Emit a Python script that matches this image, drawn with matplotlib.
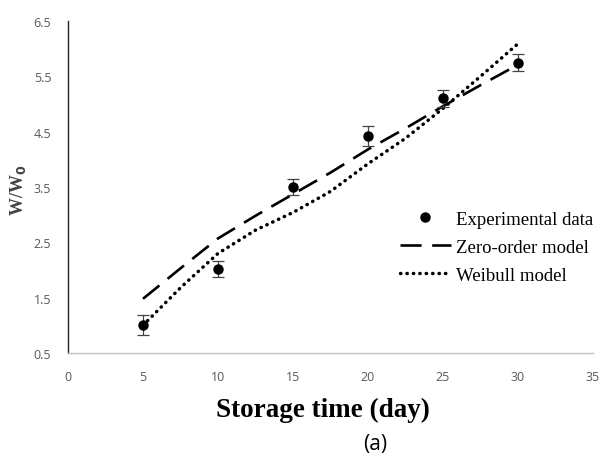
import matplotlib
matplotlib.use("Agg")
import matplotlib.pyplot as plt
from matplotlib.lines import Line2D

# Experimental data
days = [5, 10, 15, 20, 25, 30]
ratio = [1.00, 2.02, 3.50, 4.42, 5.10, 5.75]
ratio_err = [0.18, 0.15, 0.15, 0.18, 0.15, 0.15]

# Model curves
model_days = [5, 7.5, 10, 12.5, 15, 17.5, 20, 22.5, 25, 27.5, 30]
zero_order = [1.48, 2.03, 2.57, 2.98, 3.37, 3.76, 4.18, 4.56, 4.96, 5.34, 5.71]
weibull = [1.00, 1.68, 2.30, 2.72, 3.04, 3.42, 3.92, 4.38, 4.92, 5.50, 6.09]

xticks = [0, 5, 10, 15, 20, 25, 30, 35]
yticks = [0.5, 1.5, 2.5, 3.5, 4.5, 5.5, 6.5]

DASH = (0, (8, 4))
DOT = (0, (0.1, 1.75))

fig = plt.figure(figsize=(6.02, 4.64), dpi=100)
ax = fig.add_axes([68/602, 1-354/464, (593-68)/602, (354-22)/464])

ax.plot(model_days, zero_order, color="black", lw=1.9, linestyle=DASH,
        dash_capstyle="butt")
ax.plot(model_days, weibull, color="black", lw=2.5, linestyle=DOT,
        dash_capstyle="round")
ax.errorbar(days, ratio, yerr=ratio_err, fmt="o", color="black", ms=6.5,
            ecolor="#444444", elinewidth=0.9, capsize=4.5, capthick=0.9)

ax.set_xlim(0, 35)
ax.set_ylim(0.5, 6.5)
ax.set_xticks(xticks)
ax.set_yticks(yticks)
ax.set_xticklabels([str(v) for v in xticks])
ax.set_yticklabels([f"{v:.1f}" for v in yticks])
ax.tick_params(length=0, labelsize=9, labelcolor="#595959")
for lab in ax.get_xticklabels() + ax.get_yticklabels():
    lab.set_family(["Open Sans", "DejaVu Sans"])
ax.tick_params(axis="x", pad=12)
ax.tick_params(axis="y", pad=12)
for s in ["top", "right"]:
    ax.spines[s].set_visible(False)
ax.spines["left"].set_color("#222222")
ax.spines["bottom"].set_color("#bfbfbf")
ax.spines["left"].set_linewidth(1.0)
ax.spines["bottom"].set_linewidth(1.0)

fig.text(18/602, 1-190/464, r"W/W$_\mathbf{0}$", rotation=90, ha="center", va="center",
         fontsize=13, fontweight="bold", family="Liberation Serif", color="#4a4040")
fig.text(323/602, 1-410/464, "Storage time (day)", ha="center", va="center",
         fontsize=19.5, fontweight="bold", family="Liberation Serif", color="black")
fig.text(375/602, 1-445/464, "(a)", ha="center", va="center",
         fontsize=15, family="Open Sans", color="black")

handles = [
    Line2D([], [], marker="o", color="black", linestyle="none", ms=6.5),
    Line2D([], [], color="black", lw=1.9, linestyle=DASH),
    Line2D([], [], color="black", lw=2.5, linestyle=DOT, dash_capstyle="round"),
]
leg = ax.legend(handles, ["Experimental data", "Zero-order model", "Weibull model"],
                loc="upper left", bbox_to_anchor=(383/602, 1-195/464),
                bbox_transform=fig.transFigure, frameon=False, handlelength=2.7,
                handletextpad=0.3, labelspacing=0.58,
                prop={"family": "Liberation Serif", "size": 13.5})

fig.savefig("out.png", dpi=100, facecolor="white")
